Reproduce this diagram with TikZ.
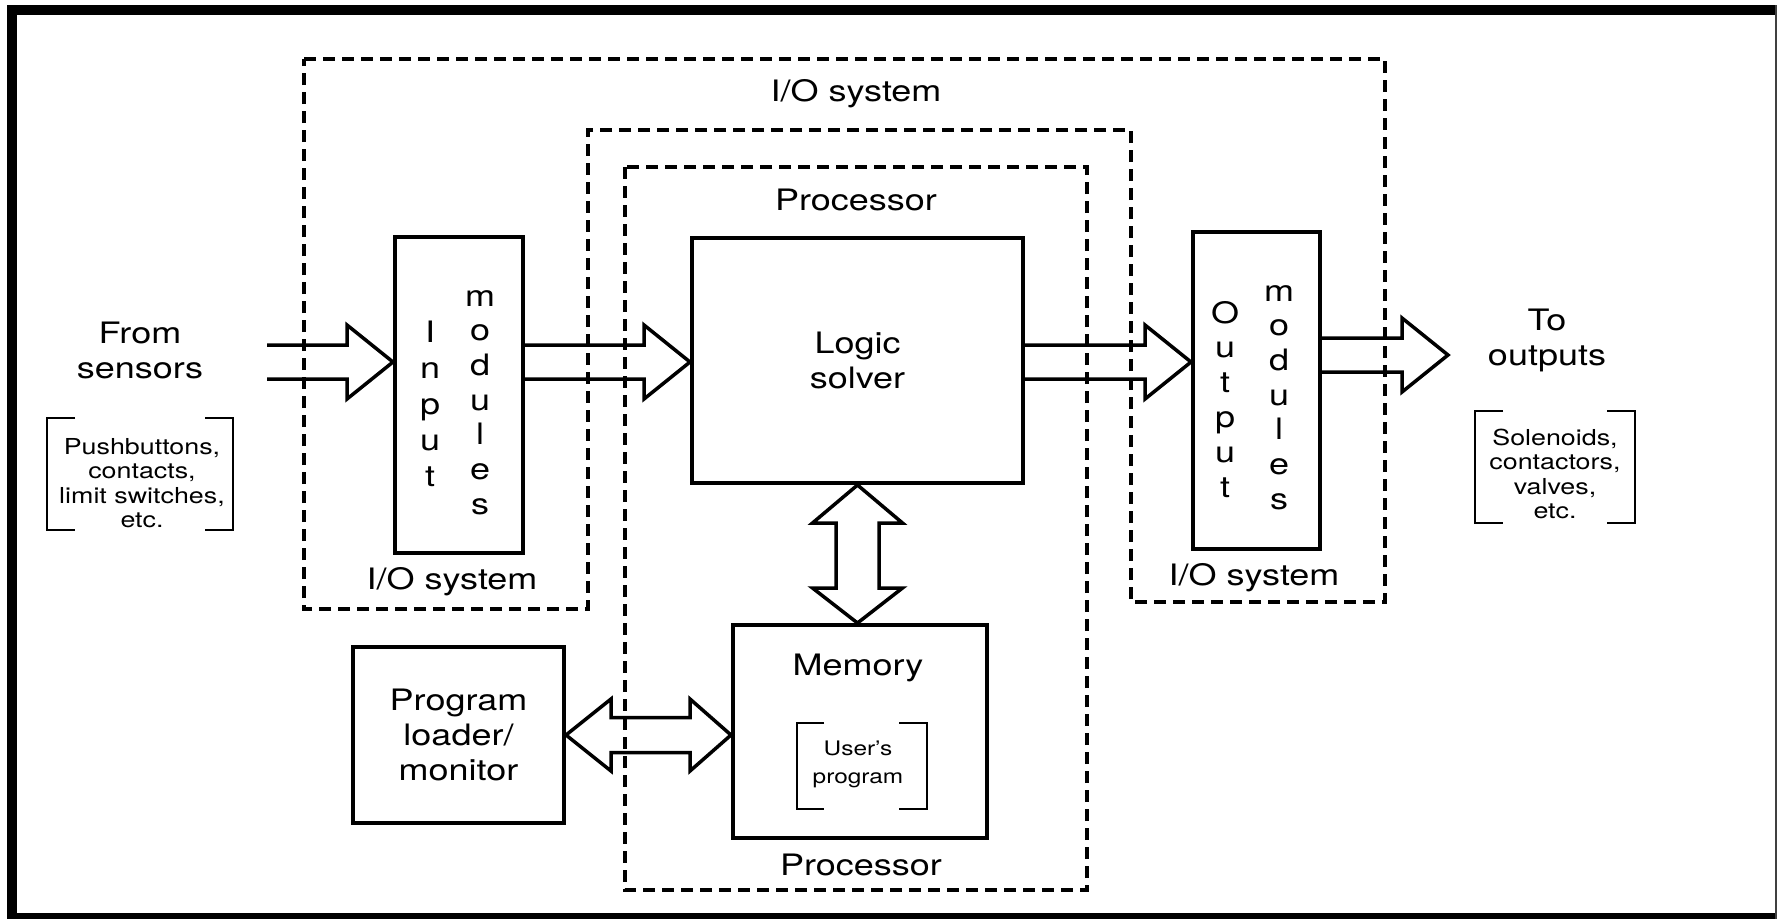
\documentclass[tikz,border=0pt]{standalone}
\usepackage{fontspec}
\setmainfont{TeX Gyre Heros}[FakeStretch=1.22]
\usetikzlibrary{calc}

\tikzset{
  box/.style={draw, line width=4pt, inner sep=0pt, align=center,
    font=\fontsize{29.5pt}{35pt}\selectfont},
  region/.style={draw, line width=3.2pt, dash pattern=on 12pt off 7pt},
  blk/.style={draw, line width=3.5pt, line join=miter},
  bracketline/.style={draw, line width=2.5pt},
  lbl/.style={inner sep=0pt, align=center, font=\fontsize{29.5pt}{35pt}\selectfont},
  lst/.style={inner sep=0pt, align=center, font=\fontsize{22pt}{24.5pt}\selectfont},
  smalllst/.style={inner sep=0pt, align=center, font=\fontsize{20pt}{28pt}\selectfont},
  ltr/.style={inner sep=0pt, anchor=base, font=\fontsize{29.5pt}{35pt}\selectfont},
}

% single hollow block arrow pointing right: #1 tail point, #2 tip point
\newcommand\blockarrowR[2]{%
  \draw[blk] ($(#1)+(0,-17)$) -- ($(#2)+(-46,-17)$) -- ($(#2)+(-46,-37)$)
    -- (#2) -- ($(#2)+(-46,37)$) -- ($(#2)+(-46,17)$) -- ($(#1)+(0,17)$);}

\begin{document}
\begin{tikzpicture}[x=1pt,y=-1pt]
\useasboundingbox (0,0) rectangle (1777,919);

% outer frame
\fill (7,5) rectangle (17,919);
\fill (7,5) rectangle (1777,15);
\fill (7,913) rectangle (1777,919);
\draw[line width=2pt, black!75] (1776,5) -- (1776,919);

% dashed regions: I/O system (inverted U) and processor
\draw[region] (304,59) -- (1385,59) -- (1385,602) -- (1131,602) -- (1131,130)
  -- (588,130) -- (588,609) -- (304,609) -- cycle;
\draw[region] (625,167) rectangle (1087,890);

% region labels
\node[lbl] (iotop)   at (856,94)  {I/O system};
\node[lbl] (ioleft)  at (452,582) {I/O system};
\node[lbl] (ioright) at (1254,578) {I/O system};
\node[lbl] (proctop) at (856,200) {Processor};
\node[lbl] (procbot) at (861,865) {Processor};

% blocks
\node[box, minimum width=128pt, minimum height=316pt] (inbox)  at (459,395) {};
\node[box, minimum width=331pt, minimum height=245pt] (logic)  at (857.5,360.5) {Logic\\solver};
\node[box, minimum width=127pt, minimum height=317pt] (outbox) at (1256.5,390.5) {};
\node[box, minimum width=254pt, minimum height=213pt] (memory) at (860,731.5) {};
\node[box, minimum width=211pt, minimum height=176pt] (prog)   at (458.5,735) {Program\\loader/\\monitor};

% vertical lettering in the module blocks
\foreach \ch [count=\i from 0] in {I,n,p,u,t}
  \node[ltr] (inl-\i) at (430,342+36*\i) {\ch};
\foreach \ch [count=\i from 0] in {m,o,d,u,l,e,s}
  \node[ltr] (inm-\i) at (480,306+34.7*\i) {\ch};
\foreach \ch [count=\i from 0] in {O,u,t,p,u,t}
  \node[ltr] (outl-\i) at (1225,323+34.8*\i) {\ch};
\foreach \ch [count=\i from 0] in {m,o,d,u,l,e,s}
  \node[ltr] (outm-\i) at (1279,301+34.7*\i) {\ch};

% memory contents
\node[lbl] (memlabel) at (858,668) {Memory};
\node[smalllst] (userprog) at (858,764) {User's\\program};
\draw[bracketline] (824,723) -| (797,809) -- (824,809);
\draw[bracketline] (899,723) -| (927,809) -- (899,809);

% field side texts
\node[lbl] (from) at (140,350) {From\\sensors};
\node[lst] (sensorlist) at (142,483) {Pushbuttons,\\contacts,\\limit switches,\\etc.};
\draw[bracketline] (75,418) -| (47,530) -- (75,530);
\draw[bracketline] (205,418) -| (233,530) -- (205,530);

\node[lbl] (to) at (1547,340) {To\\outputs};
\node[lst] (outlist) at (1555,474) {Solenoids,\\contactors,\\valves,\\etc.};
\draw[bracketline] (1503,411) -| (1475,523) -- (1503,523);
\draw[bracketline] (1607,411) -| (1635,523) -- (1607,523);

% signal flow arrows
\coordinate (sens) at (267,362);
\coordinate (outtip) at (1448,355);
\blockarrowR{sens}{inbox.west |- sens}
\blockarrowR{inbox.east |- sens}{logic.west |- sens}
\blockarrowR{logic.east |- sens}{outbox.west |- sens}
\blockarrowR{outbox.east |- outtip}{outtip}

% logic solver <-> memory
\coordinate (T) at (logic.south);
\coordinate (B) at (logic.south |- memory.north);
\draw[blk] (T) -- ($(T)+(45,38)$) -- ($(T)+(21.5,38)$) -- ($(B)+(21.5,-35)$)
  -- ($(B)+(45,-35)$) -- (B) -- ($(B)+(-45,-35)$) -- ($(B)+(-21.5,-35)$)
  -- ($(T)+(-21.5,38)$) -- ($(T)+(-45,38)$) -- cycle;

% program loader <-> memory
\coordinate (L) at (prog.east);
\coordinate (R) at (memory.west |- prog.east);
\draw[blk] (L) -- ($(L)+(45,-36)$) -- ($(L)+(45,-17.5)$) -- ($(R)+(-41,-17.5)$)
  -- ($(R)+(-41,-36)$) -- (R) -- ($(R)+(-41,36)$) -- ($(R)+(-41,17.5)$)
  -- ($(L)+(45,17.5)$) -- ($(L)+(45,36)$) -- cycle;
\end{tikzpicture}
\end{document}
